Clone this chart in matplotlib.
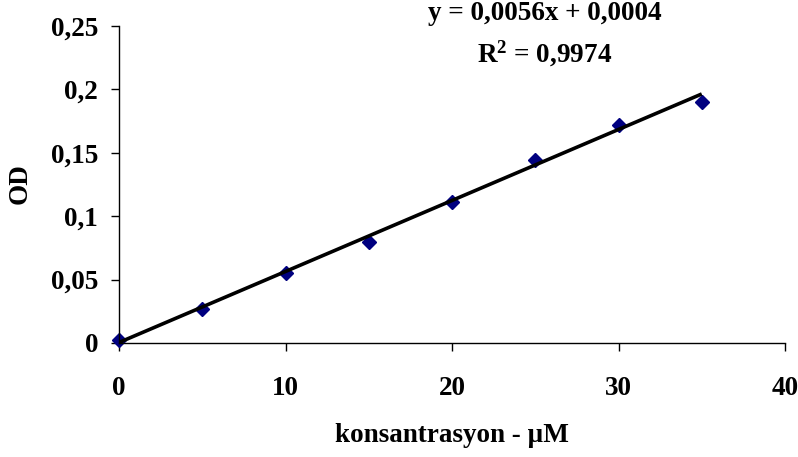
import matplotlib
matplotlib.use("Agg")
import matplotlib.pyplot as plt
import numpy as np

# Calibration data: concentration (µM) vs optical density
concentration = [0, 5, 10, 15, 20, 25, 30, 35]
od = [0.002, 0.027, 0.055, 0.080, 0.111, 0.144, 0.172, 0.190]

# Linear trendline parameters shown on the chart
slope = 0.0056
intercept = 0.0004
r_squared = 0.9974

x_ticks = [0, 10, 20, 30, 40]
y_ticks = [0, 0.05, 0.1, 0.15, 0.2, 0.25]
y_tick_labels = ["0", "0,05", "0,1", "0,15", "0,2", "0,25"]

plt.rcParams["font.family"] = ["Liberation Serif", "DejaVu Serif"]
plt.rcParams["font.weight"] = "bold"
plt.rcParams["mathtext.fontset"] = "custom"
plt.rcParams["mathtext.rm"] = "Liberation Serif:bold"
plt.rcParams["mathtext.it"] = "Liberation Serif:bold"
plt.rcParams["mathtext.bf"] = "Liberation Serif:bold"

fs = 19.5
fig = plt.figure(figsize=(7.98, 4.57), dpi=100)
ax = fig.add_axes([119 / 798, 1 - 343 / 457, 666 / 798, 317 / 457])

# Trendline
xs = np.array([min(concentration), max(concentration)])
ax.plot(xs, slope * xs + intercept, color="black", lw=2.6, zorder=3,
        solid_capstyle="butt")

# Measured points
ax.plot(concentration, od, linestyle="none", marker="D", markersize=7.3,
        color="#000080", zorder=2, clip_on=False)

ax.set_xlim(0, 40)
ax.set_ylim(0, 0.25)
ax.set_xticks(x_ticks)
ax.set_xticklabels([str(t) for t in x_ticks])
ax.set_yticks(y_ticks)
ax.set_yticklabels(y_tick_labels)

for side in ("top", "right"):
    ax.spines[side].set_visible(False)
for side in ("left", "bottom"):
    ax.spines[side].set_linewidth(1.0)
    ax.spines[side].set_color("black")

ax.tick_params(axis="x", direction="out", length=6, width=1.0,
               labelsize=fs, pad=18)
ax.tick_params(axis="y", direction="out", length=6, width=1.0,
               labelsize=fs, pad=9)
for lbl in ax.get_xticklabels() + ax.get_yticklabels():
    lbl.set_fontweight("bold")

# Axis titles
fig.text(452 / 798, 1 - 436 / 457, "konsantrasyon - µM",
         ha="center", va="center", fontsize=fs, fontweight="bold")
fig.text(20 / 798, 1 - 184 / 457, "OD", rotation=90,
         ha="center", va="center", fontsize=fs, fontweight="bold")

# Trendline equation
fig.text(545 / 798, 1 - 14 / 457,
         f"y = {slope:.4f}x + {intercept:.4f}".replace(".", ","),
         ha="center", va="center", fontsize=fs, fontweight="bold")
fig.text(545 / 798, 1 - 54 / 457,
         "R$^{2}$ = " + f"{r_squared:.4f}".replace(".", ","),
         ha="center", va="center", fontsize=fs, fontweight="bold")

fig.savefig("out.png", dpi=100)
